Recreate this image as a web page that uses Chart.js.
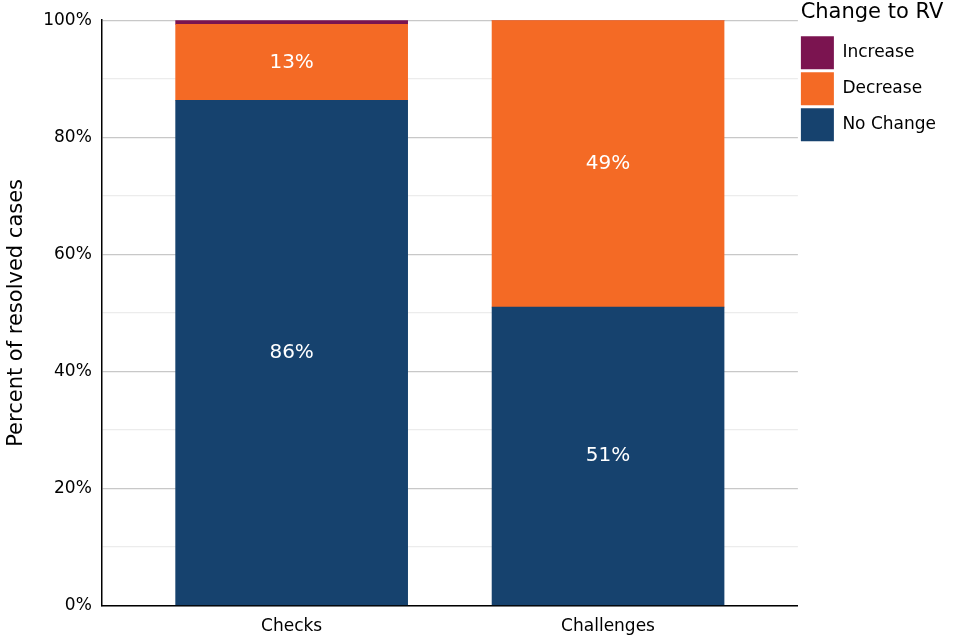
<!DOCTYPE html>
<html><head><meta charset="utf-8">
<script src="https://cdn.jsdelivr.net/npm/chart.js@4"></script>
<style>body{margin:0;background:#fff}#wrap{width:960px;height:640px}</style>
</head><body><div id="wrap"><canvas id="c" width="960" height="640"></canvas></div>
<script>
var categories = ['Checks', 'Challenges'];
var noChange = [86.3, 51.0];
var decrease = [13.0, 49.0];
var increase = [0.7, 0];
var segLabels = { 'No Change': ['86%', '51%'], 'Decrease': ['13%', '49%'] };

function pts(vals) { return vals.map(function (v, i) { return { x: i + 1, y: v }; }); }

// writes percentages in the middle of each segment
var segText = {
  id: 'segText',
  afterDatasetsDraw: function (chart) {
    var ctx = chart.ctx;
    ctx.save();
    ctx.fillStyle = '#fff';
    ctx.font = '20px "DejaVu Sans"';
    ctx.textAlign = 'center';
    ctx.textBaseline = 'middle';
    chart.data.datasets.forEach(function (ds, di) {
      var labs = segLabels[ds.label];
      if (!labs) return;
      chart.getDatasetMeta(di).data.forEach(function (bar, i) {
        ctx.fillText(labs[i], bar.x, (bar.y + bar.base) / 2);
      });
    });
    ctx.restore();
  }
};

new Chart(document.getElementById('c'), {
  type: 'bar',
  data: {
    datasets: [
      { label: 'No Change', data: pts(noChange), backgroundColor: '#16426E' },
      { label: 'Decrease', data: pts(decrease), backgroundColor: '#F46A25' },
      { label: 'Increase', data: pts(increase), backgroundColor: '#7B1450' }
    ]
  },
  plugins: [segText],
  options: {
    responsive: false,
    animation: false,
    layout: { padding: { top: 2, right: 14, left: 0, bottom: 0 } },
    datasets: { bar: { barThickness: 232 } },
    plugins: {
      tooltip: { enabled: false },
      legend: {
        position: 'right', align: 'start', reverse: true,
        title: { display: true, text: 'Change to RV', color: '#000', font: { size: 21, family: 'DejaVu Sans' }, padding: { top: 0, bottom: 6 } },
        labels: { boxWidth: 33, boxHeight: 33, color: '#000', font: { size: 17, family: 'DejaVu Sans' }, padding: 3 }
      }
    },
    scales: {
      x: {
        type: 'linear', stacked: true, min: 0.4, max: 2.6, offset: false,
        afterBuildTicks: function (a) { a.ticks = [{ value: 1 }, { value: 2 }]; },
        ticks: { color: '#000', font: { size: 17, family: 'DejaVu Sans' }, callback: function (v) { return categories[v - 1]; } },
        grid: { display: false },
        border: { color: '#000', width: 1.5 }
      },
      y: {
        stacked: true, min: 0, max: 100,
        ticks: { stepSize: 10, padding: 10, color: '#000', font: { size: 17, family: 'DejaVu Sans' },
          callback: function (v) { return v % 20 === 0 ? v + '%' : ''; } },
        grid: { color: function (c) { return c.tick.value % 20 === 0 ? '#c8c8c8' : '#ececec'; }, lineWidth: 1.2, drawTicks: false },
        border: { color: '#000', width: 1.5 },
        title: { display: true, text: 'Percent of resolved cases', color: '#000', font: { size: 21, family: 'DejaVu Sans' } }
      }
    }
  }
});
</script></body></html>
